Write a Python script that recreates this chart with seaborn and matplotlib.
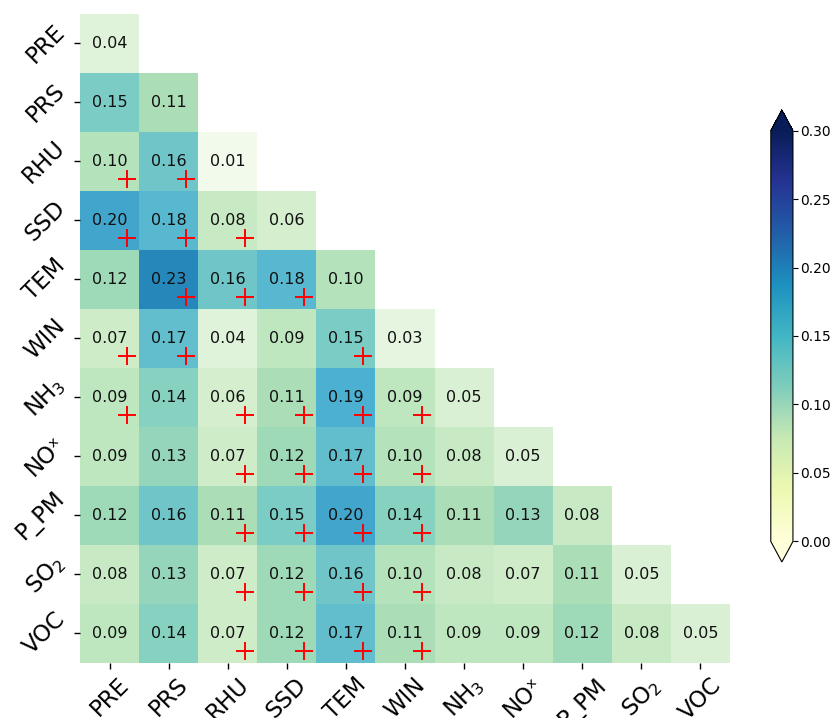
import numpy as np
import pandas as pd
import matplotlib
matplotlib.use("Agg")
import matplotlib.pyplot as plt
import seaborn as sns

# Variable names (rows and columns share the same order)
variables = ["PRE", "PRS", "RHU", "SSD", "TEM", "WIN", "NH3", "NOx", "P_PM", "SO2", "VOC"]
tick_labels = ["PRE", "PRS", "RHU", "SSD", "TEM", "WIN",
               "NH$_3$", "NO\u02e3", "P_PM", "SO$_2$", "VOC"]

# Lower-triangle interaction values, row by row
rows = [
    [0.04],
    [0.15, 0.11],
    [0.10, 0.16, 0.01],
    [0.20, 0.18, 0.08, 0.06],
    [0.12, 0.23, 0.16, 0.18, 0.10],
    [0.07, 0.17, 0.04, 0.09, 0.15, 0.03],
    [0.09, 0.14, 0.06, 0.11, 0.19, 0.09, 0.05],
    [0.09, 0.13, 0.07, 0.12, 0.17, 0.10, 0.08, 0.05],
    [0.12, 0.16, 0.11, 0.15, 0.20, 0.14, 0.11, 0.13, 0.08],
    [0.08, 0.13, 0.07, 0.12, 0.16, 0.10, 0.08, 0.07, 0.11, 0.05],
    [0.09, 0.14, 0.07, 0.12, 0.17, 0.11, 0.09, 0.09, 0.12, 0.08, 0.05],
]

# Significant pairs (row variable, column variable)
significant = {
    "RHU": ["PRE", "PRS"],
    "SSD": ["PRE", "PRS", "RHU"],
    "TEM": ["PRS", "RHU", "SSD"],
    "WIN": ["PRE", "PRS", "TEM"],
    "NH3": ["PRE", "RHU", "SSD", "TEM", "WIN"],
    "NOx": ["RHU", "SSD", "TEM", "WIN"],
    "P_PM": ["RHU", "SSD", "TEM", "WIN"],
    "SO2": ["RHU", "SSD", "TEM", "WIN"],
    "VOC": ["RHU", "SSD", "TEM", "WIN"],
}

n = len(variables)
mat = np.full((n, n), np.nan)
for i, r in enumerate(rows):
    mat[i, :len(r)] = r
df = pd.DataFrame(mat, index=variables, columns=variables)
mask = np.triu(np.ones((n, n), dtype=bool), k=1)

vmin, vmax = 0.0, 0.30

fig = plt.figure(figsize=(8.36, 7.18), dpi=100)
ax = fig.add_axes([0.0957, 0.0766, 0.7775, 0.904])

sns.heatmap(df, mask=mask, cmap="GnBu", vmin=vmin, vmax=vmax, annot=True, fmt=".2f",
            annot_kws={"fontsize": 11.5, "color": "#111111"}, cbar=False, square=False, ax=ax)

# Red crosses on significant cells
px, py = [], []
for rv, cols in significant.items():
    i = variables.index(rv)
    for cv in cols:
        j = variables.index(cv)
        px.append(j + 0.79)
        py.append(i + 0.79)
ax.scatter(px, py, marker="+", color="red", s=160, linewidths=1.4, zorder=5)

ax.set_xticks(np.arange(n) + 0.5)
ax.set_yticks(np.arange(n) + 0.5)
ax.set_xticklabels(tick_labels, rotation=45, ha="center", fontsize=16.5)
ax.set_yticklabels(tick_labels, rotation=45, ha="right", va="center", fontsize=16.5)
ax.tick_params(axis="both", length=4, width=1)
ax.set_xlabel("")
ax.set_ylabel("")

# Colour bar
cax = fig.add_axes([0.922, 0.2173, 0.0265, 0.6295])
sm = plt.cm.ScalarMappable(cmap="YlGnBu", norm=plt.Normalize(vmin, vmax))
cb = fig.colorbar(sm, cax=cax, extend="both", ticks=[0.0, 0.05, 0.10, 0.15, 0.20, 0.25, 0.30])
cb.ax.set_yticklabels(["0.00", "0.05", "0.10", "0.15", "0.20", "0.25", "0.30"])
cb.ax.tick_params(labelsize=10, pad=2)
cb.outline.set_linewidth(0.8)

fig.savefig("out.png", dpi=100)
